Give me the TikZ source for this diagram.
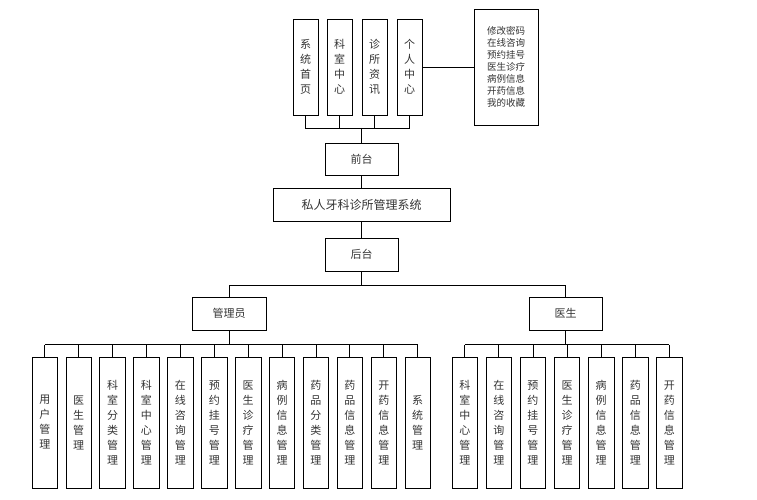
\documentclass[tikz,border=0pt]{standalone}
\usepackage{fontspec}
\usetikzlibrary{calc}
\newfontfamily\cjk{Noto Sans CJK SC}
\begin{document}
\begin{tikzpicture}[x=1pt,y=-1pt,
 bx/.style={draw,line width=0.8pt,inner sep=0pt,align=center,font=\cjk\fontsize{11}{15}\selectfont,text=black!80},
 ln/.style={line width=0.8pt}]
\useasboundingbox (0,0) rectangle (757,500);
% top
\foreach \n/\x/\t in {t1/293/系\\统\\首\\页, t2/327/科\\室\\中\\心, t3/362/诊\\所\\资\\讯, t4/397/个\\人\\中\\心}{
  \node[bx,minimum width=25pt,minimum height=96pt] (\n) at (\x+12.5,67) {\t};}
\node[bx,minimum width=64pt,minimum height=116pt,font=\cjk\fontsize{9.5}{12}\selectfont] (side) at (506,67) {修改密码\\在线咨询\\预约挂号\\医生诊疗\\病例信息\\开药信息\\我的收藏};
\node[bx,minimum width=73pt,minimum height=32pt] (qt) at (361.5,159) {前台};
\node[bx,minimum width=177pt,minimum height=33pt,font=\cjk\fontsize{12}{15}\selectfont] (sys) at (361.5,204.5) {私人牙科诊所管理系统};
\node[bx,minimum width=73pt,minimum height=33pt] (ht) at (361.5,254.5) {后台};
\node[bx,minimum width=74pt,minimum height=33pt] (adm) at (229,313.5) {管理员};
\node[bx,minimum width=73pt,minimum height=33pt] (doc) at (565.5,313.5) {医生};
\coordinate (tb) at (361.5,128);
\draw[ln] (t1.south) -- ++(0,13) -| (t4.south);
\draw[ln] (t2.south) -- ++(0,13); \draw[ln] (t3.south) -- ++(0,13);
\draw[ln] (tb) -- (qt.north);
\draw[ln] (t4.east) -- (side.west);
\draw[ln] (qt) -- (sys); \draw[ln] (sys) -- (ht);
\draw[ln] (ht.south) -- ++(0,14) coordinate (hb);
\draw[ln] (adm.north) |- (hb) -| (doc.north);
% admin children
\foreach [count=\i] \t in {用\\户\\管\\理, 医\\生\\管\\理, 科\\室\\分\\类\\管\\理, 科\\室\\中\\心\\管\\理, 在\\线\\咨\\询\\管\\理, 预\\约\\挂\\号\\管\\理, 医\\生\\诊\\疗\\管\\理, 病\\例\\信\\息\\管\\理, 药\\品\\分\\类\\管\\理, 药\\品\\信\\息\\管\\理, 开\\药\\信\\息\\管\\理, 系\\统\\管\\理}{
  \node[bx,minimum width=25.5pt,minimum height=131pt] (a\i) at ({32+12.75+(\i-1)*33.9},422.5) {\t};
  \draw[ln] (a\i.north) -- ++(0,-12);}
\draw[ln] ($(a1.north)+(0,-12)$) -- ($(a12.north)+(0,-12)$);
\draw[ln] (adm.south) -- ++(0,15);
\foreach [count=\i] \t in {科\\室\\中\\心\\管\\理, 在\\线\\咨\\询\\管\\理, 预\\约\\挂\\号\\管\\理, 医\\生\\诊\\疗\\管\\理, 病\\例\\信\\息\\管\\理, 药\\品\\信\\息\\管\\理, 开\\药\\信\\息\\管\\理}{
  \node[bx,minimum width=25.5pt,minimum height=131pt] (d\i) at ({452+12.75+(\i-1)*34.1},422.5) {\t};
  \draw[ln] (d\i.north) -- ++(0,-12);}
\draw[ln] ($(d1.north)+(0,-12)$) -- ($(d7.north)+(0,-12)$);
\draw[ln] (doc.south) -- ++(0,15);
\end{tikzpicture}
\end{document}
